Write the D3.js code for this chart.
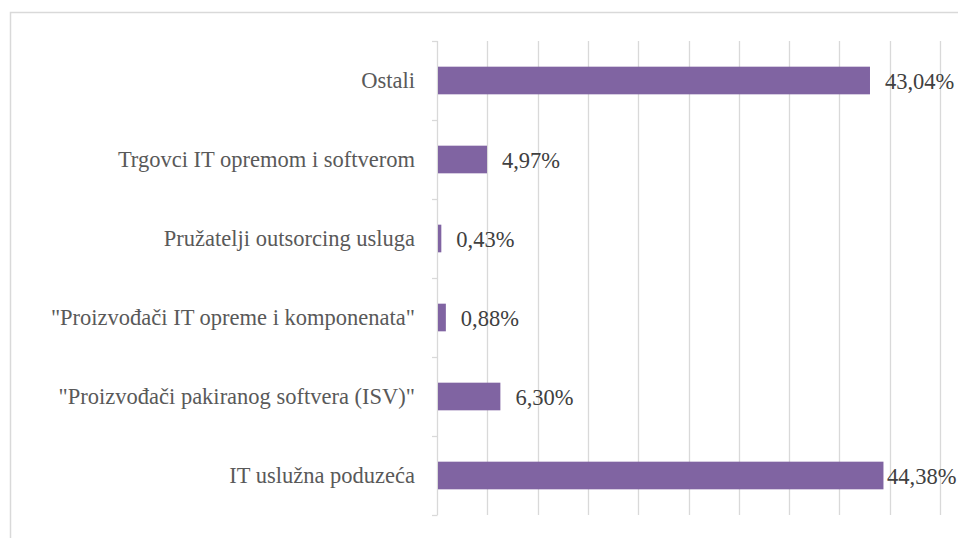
<!DOCTYPE html>
<html><head><meta charset="utf-8">
<script src="https://cdn.jsdelivr.net/npm/d3@7"></script>
<style>html,body{margin:0;padding:0;background:#fff;overflow:hidden}
svg text{font-family:"Liberation Serif","Times New Roman",Tinos,"DejaVu Serif",serif}</style>
</head><body>
<svg id="chart" width="958" height="538"></svg>
<script>
const categories = ["Ostali", "Trgovci IT opremom i softverom", "Pružatelji outsorcing usluga", "\"Proizvođači IT opreme i komponenata\"", "\"Proizvođači pakiranog softvera (ISV)\"", "IT uslužna poduzeća"];
const values = [43.04, 4.97, 0.43, 0.88, 6.30, 44.38];
const valueLabels = ["43,04%", "4,97%", "0,43%", "0,88%", "6,30%", "44,38%"];
const xTicks = [0, 5, 10, 15, 20, 25, 30, 35, 40, 45, 50];

(function () {
const svg = d3.select("#chart");
const pLeft = 437, pRight = 940, pTop = 41, pBottom = 515;
const fs = 22.5;
const labelMaxX = 887;

svg.append("rect").attr("x", 10.5).attr("y", 12.5).attr("width", 1000).attr("height", 600)
  .attr("fill", "none").attr("stroke", "#d9d9d9").attr("stroke-width", 1.5);

const x = d3.scaleLinear().domain([0, 50]).range([pLeft, pRight]);
const y = d3.scaleBand().domain(categories).range([pTop, pBottom]).paddingInner(0.65).paddingOuter(0.325);

svg.append("g").selectAll("line").data(xTicks.slice(1)).join("line")
  .attr("x1", d => Math.round(x(d)) + 0.5).attr("x2", d => Math.round(x(d)) + 0.5)
  .attr("y1", pTop).attr("y2", pBottom)
  .attr("stroke", "#d9d9d9").attr("stroke-width", 1.3);

const yb = d3.scaleLinear().domain([0, categories.length]).range([pTop, pBottom]);
const axisG = svg.append("g");
axisG.append("line").attr("x1", pLeft + 0.5).attr("x2", pLeft + 0.5).attr("y1", pTop).attr("y2", pBottom)
  .attr("stroke", "#d9d9d9").attr("stroke-width", 1.3);
axisG.selectAll("line.t").data(d3.range(categories.length + 1)).join("line").attr("class", "t")
  .attr("x1", pLeft - 5).attr("x2", pLeft + 0.5)
  .attr("y1", d => Math.round(yb(d)) + 0.5).attr("y2", d => Math.round(yb(d)) + 0.5)
  .attr("stroke", "#d9d9d9").attr("stroke-width", 1.3);

svg.append("g").selectAll("text").data(categories).join("text")
  .attr("x", pLeft - 22).attr("y", d => y(d) + y.bandwidth() / 2)
  .attr("dy", "0.35em").attr("text-anchor", "end")
  .attr("font-size", fs).attr("fill", "#595959")
  .text(d => d);

svg.append("g").selectAll("rect").data(values).join("rect")
  .attr("x", pLeft + 1).attr("y", (d, i) => y(categories[i]))
  .attr("width", d => x(d) - pLeft - 1).attr("height", y.bandwidth())
  .attr("fill", "#8064a2");

svg.append("g").selectAll("text").data(values).join("text")
  .attr("x", d => Math.min(x(d) + 15, labelMaxX)).attr("y", (d, i) => y(categories[i]) + y.bandwidth() / 2 + 1)
  .attr("dy", "0.35em")
  .attr("font-size", fs).attr("fill", "#404040")
  .text((d, i) => valueLabels[i]);
})();
</script>
</body></html>
